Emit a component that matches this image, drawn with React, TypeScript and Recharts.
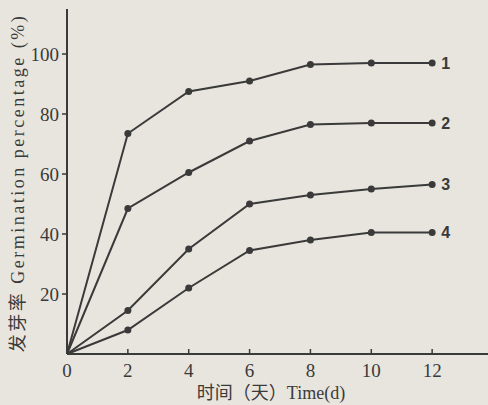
import { Label, Line, LineChart, XAxis, YAxis } from "recharts";

const days = [0, 2, 4, 6, 8, 10, 12];
const curve1 = [0, 73.5, 87.5, 91, 96.5, 97, 97];
const curve2 = [0, 48.5, 60.5, 71, 76.5, 77, 77];
const curve3 = [0, 14.5, 35, 50, 53, 55, 56.5];
const curve4 = [0, 8, 22, 34.5, 38, 40.5, 40.5];
const curveNames = ["1", "2", "3", "4"];
const xTicks = [0, 2, 4, 6, 8, 10, 12];
const yTicks = [20, 40, 60, 80, 100];

const INK = "#3a3a3a";
const BG = "#e8e5de";
const SERIF = "'Liberation Serif', 'Noto Sans CJK SC', serif";

const rows = days.map((d, i) => ({
  day: d,
  c1: curve1[i],
  c2: curve2[i],
  c3: curve3[i],
  c4: curve4[i],
}));

// points skip the origin, every curve starts there without a dot
const dot = (p: any) =>
  p.index === 0 ? (
    <g key={p.key} />
  ) : (
    <circle key={p.key} cx={p.cx} cy={p.cy} r={3.5} fill={INK} />
  );

const endLabel = (name: string) => (p: any) =>
  p.index === days.length - 1 ? (
    <text
      key={`lbl-${name}`}
      x={p.x + 9}
      y={p.y}
      dy="0.35em"
      fontFamily="'Liberation Sans', sans-serif"
      fontWeight="bold"
      fontSize={16}
      fill={INK}
    >
      {name}
    </text>
  ) : (
    <g key={`lbl-${name}-${p.index}`} />
  );

// x ticks point inward (up), labels sit below the axis
const XTick = ({ x, y, payload }: any) => (
  <g>
    <line x1={x} x2={x} y1={y} y2={y - 5} stroke={INK} strokeWidth={1.5} />
    <text x={x} y={y + 23} textAnchor="middle" fontFamily={SERIF} fontSize={19} fill={INK}>
      {payload.value}
    </text>
  </g>
);

export default function App() {
  return (
    <div
      style={{
        position: "absolute",
        left: 0,
        top: 0,
        width: 488,
        height: 405,
        overflow: "hidden",
        background: BG,
      }}
    >
      <LineChart
        width={500}
        height={405}
        data={rows}
        margin={{ top: 9, right: 7, left: 27, bottom: 21 }}
      >
        <XAxis
          dataKey="day"
          type="number"
          domain={[0, 14]}
          ticks={xTicks}
          tickLine={false}
          tickSize={0}
          tickMargin={0}
          tick={<XTick />}
          axisLine={{ stroke: INK, strokeWidth: 2 }}
          height={30}
        >
          <Label
            content={() => (
              <text x={271} y={399} textAnchor="middle" fontFamily={SERIF} fontSize={18} fill={INK}>
                时间（天）Time(d)
              </text>
            )}
          />
        </XAxis>
        <YAxis
          type="number"
          domain={[0, 115]}
          ticks={yTicks}
          width={40}
          tickSize={5}
          tickMargin={3}
          tickLine={{ stroke: INK, strokeWidth: 1.5 }}
          axisLine={{ stroke: INK, strokeWidth: 2 }}
          tick={{ fontFamily: SERIF, fontSize: 19, fill: INK }}
        >
          <Label
            content={() => (
              <text
                x={18}
                y={183}
                transform="rotate(-90 18 183)"
                textAnchor="middle"
                dy="0.35em"
                fontFamily={SERIF}
                fontSize={18}
                letterSpacing={2.5}
                fill={INK}
              >
                发芽率 Germination percentage (%)
              </text>
            )}
          />
        </YAxis>
        {["c1", "c2", "c3", "c4"].map((k, i) => (
          <Line
            key={k}
            type="linear"
            dataKey={k}
            stroke={INK}
            strokeWidth={2}
            dot={dot}
            activeDot={false}
            label={endLabel(curveNames[i])}
            isAnimationActive={false}
          />
        ))}
      </LineChart>
    </div>
  );
}
